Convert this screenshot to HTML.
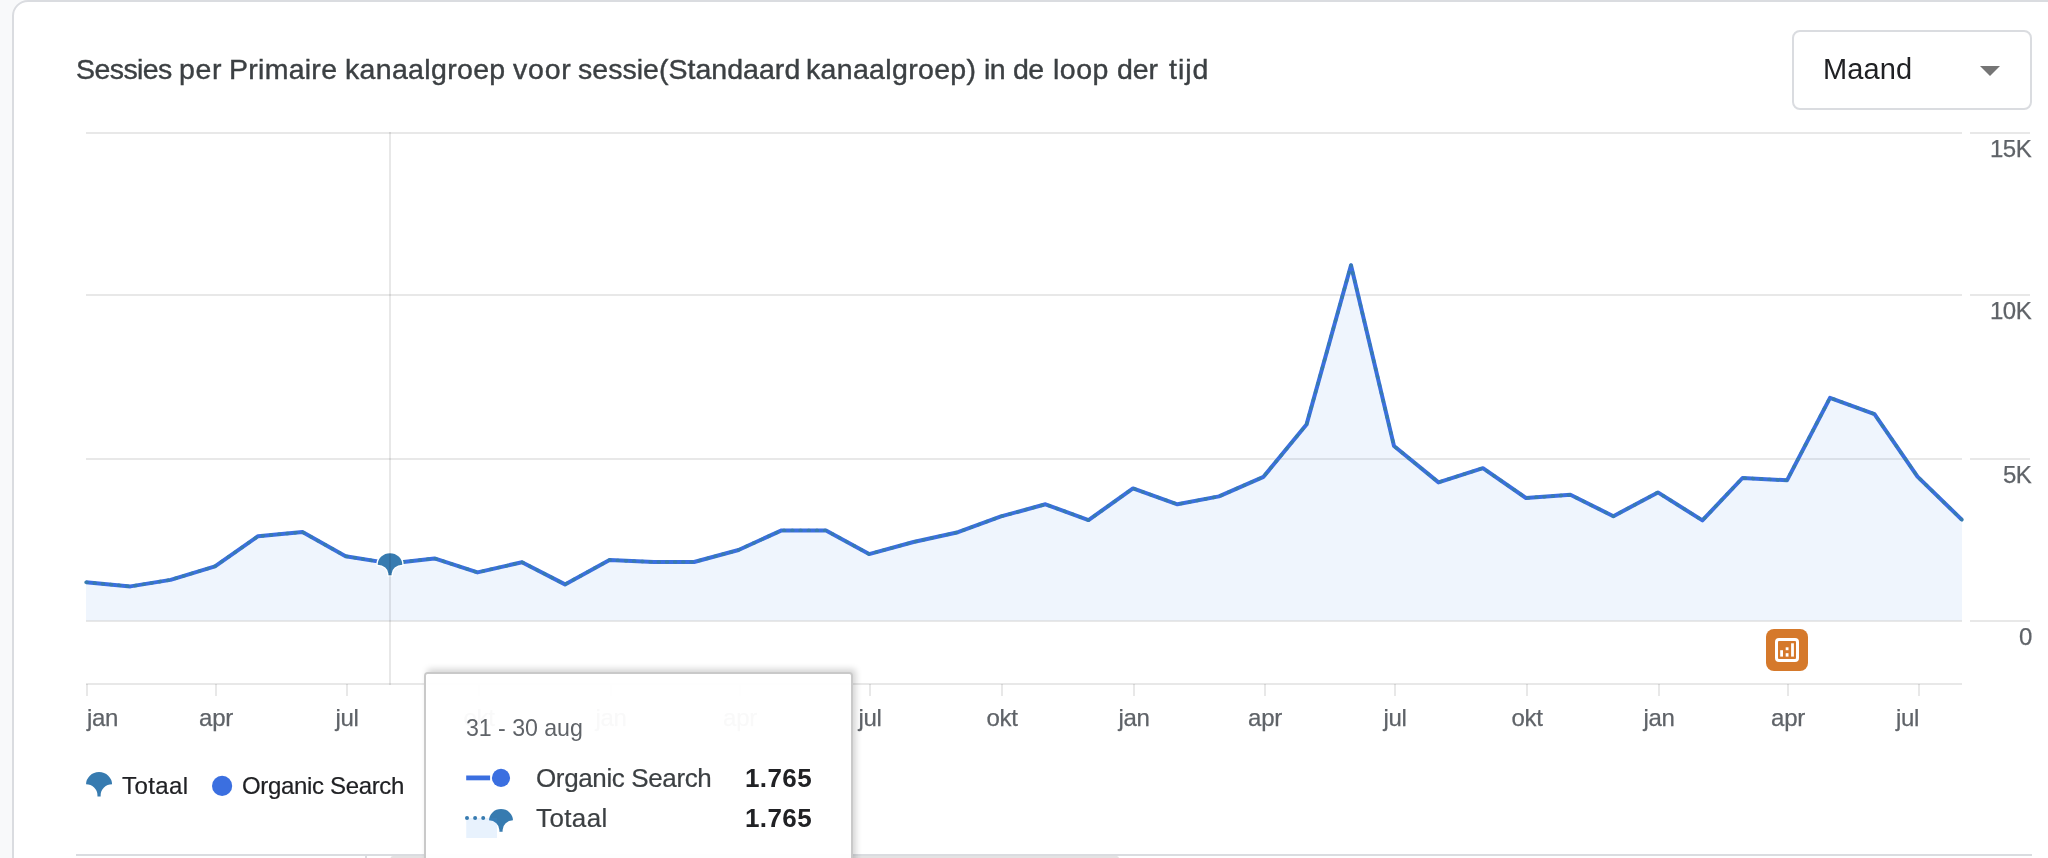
<!DOCTYPE html>
<html lang="nl">
<head>
<meta charset="utf-8">
<title>Sessies per Primaire kanaalgroep</title>
<style>
html,body{margin:0;padding:0;}
body{width:2048px;height:858px;overflow:hidden;background:#f8f9fa;font-family:"Liberation Sans",sans-serif;position:relative;}
.card{position:absolute;left:12px;top:0;width:2100px;height:900px;box-sizing:border-box;background:#fff;border:2px solid #dadce0;border-radius:16px;}
.chart{position:absolute;left:0;top:0;}
.t{position:absolute;white-space:nowrap;line-height:1;}
.t,.yl,.xl{will-change:transform;}
.title{position:absolute;left:0;top:0;}
.tw{top:55.3px;font-size:28.5px;color:#3c4043;-webkit-text-stroke:0.4px #3c4043;}
.dd{position:absolute;left:1792px;top:30px;width:240px;height:80px;box-sizing:border-box;border:2px solid #dadce0;border-radius:8px;background:#fff;}
.ddt{left:1822.5px;top:55.4px;font-size:29px;color:#202124;letter-spacing:0.1px;}
.arrow{position:absolute;left:1980px;top:66px;width:0;height:0;border-left:10px solid transparent;border-right:10px solid transparent;border-top:10px solid #757575;}
.yl{position:absolute;right:16.6px;-webkit-text-stroke:0.25px #5f6368;letter-spacing:-0.5px;font-size:24px;line-height:1;color:#5f6368;white-space:nowrap;}
.xl{position:absolute;top:705.9px;-webkit-text-stroke:0.25px #5f6368;letter-spacing:-0.3px;font-size:24px;line-height:1;color:#5f6368;white-space:nowrap;transform:translateX(-50%);}
.lg{top:774px;font-size:24px;color:#202124;-webkit-text-stroke:0.2px #202124;}
.tip{position:absolute;left:426px;top:674px;width:425px;height:200px;box-sizing:border-box;background:rgba(255,255,255,0.96);border-radius:2px;box-shadow:0 0 0 2px #c9c9c9,3px -3px 6px 1.5px rgba(0,0,0,0.17);}
.tipin{position:absolute;left:-1px;top:-1px;width:427px;height:200px;}
.tip .t{color:#3c4043;}
.th{left:41.3px;top:43.6px;letter-spacing:-0.05px;font-size:23.2px;color:#5f6368 !important;}
.tr{left:111px;font-size:26px;-webkit-text-stroke:0.2px #3c4043;}
.tv{left:320.3px;letter-spacing:0.4px;font-size:26px;font-weight:bold;color:#202124 !important;}
</style>
</head>
<body>
<div class="card"></div>
<svg class="chart" width="2048" height="858" viewBox="0 0 2048 858">
<rect x="86" y="132" width="1876" height="2" fill="#000" fill-opacity="0.09"/>
<rect x="1970" y="132" width="60" height="2" fill="#000" fill-opacity="0.09"/>
<rect x="86" y="294" width="1876" height="2" fill="#000" fill-opacity="0.09"/>
<rect x="1970" y="294" width="60" height="2" fill="#000" fill-opacity="0.09"/>
<rect x="86" y="458" width="1876" height="2" fill="#000" fill-opacity="0.09"/>
<rect x="1970" y="458" width="60" height="2" fill="#000" fill-opacity="0.09"/>
<rect x="86" y="620" width="1876" height="2" fill="#000" fill-opacity="0.09"/>
<rect x="1970" y="620" width="60" height="2" fill="#000" fill-opacity="0.09"/>
<g>
<path d="M86.0,582.3 L130.4,586.4 L170.6,579.9 L215.0,566.3 L258.1,536.2 L302.5,532.1 L345.6,556.2 L390.0,563.4 L434.5,558.4 L477.5,572.4 L522.0,562.2 L565.0,584.4 L609.5,560.0 L653.9,562.0 L694.1,562.0 L738.5,550.0 L781.6,530.4 L826.0,530.4 L869.1,554.1 L913.5,542.0 L958.0,532.2 L1001.0,516.4 L1045.5,504.3 L1088.5,520.1 L1133.0,488.4 L1177.4,504.3 L1219.0,496.4 L1263.5,476.8 L1306.5,424.6 L1351.0,265.3 L1394.0,446.0 L1438.5,482.4 L1482.9,468.2 L1526.0,498.0 L1570.4,494.8 L1613.4,516.2 L1657.9,492.4 L1702.4,520.4 L1742.5,478.0 L1787.0,480.3 L1830.0,397.8 L1874.5,414.1 L1917.5,476.6 L1962.0,519.9 L1962.0,620.5 L86.0,620.5 Z" fill="#4a90e8" fill-opacity="0.09"/>
<path d="M86.0,582.3 L130.4,586.4 L170.6,579.9 L215.0,566.3 L258.1,536.2 L302.5,532.1 L345.6,556.2 L390.0,563.4 L434.5,558.4 L477.5,572.4 L522.0,562.2 L565.0,584.4 L609.5,560.0 L653.9,562.0 L694.1,562.0 L738.5,550.0 L781.6,530.4 L826.0,530.4 L869.1,554.1 L913.5,542.0 L958.0,532.2 L1001.0,516.4 L1045.5,504.3 L1088.5,520.1 L1133.0,488.4 L1177.4,504.3 L1219.0,496.4 L1263.5,476.8 L1306.5,424.6 L1351.0,265.3 L1394.0,446.0 L1438.5,482.4 L1482.9,468.2 L1526.0,498.0 L1570.4,494.8 L1613.4,516.2 L1657.9,492.4 L1702.4,520.4 L1742.5,478.0 L1787.0,480.3 L1830.0,397.8 L1874.5,414.1 L1917.5,476.6 L1962.0,519.9" fill="none" stroke="#3b6fe0" stroke-width="4" stroke-linejoin="round" stroke-linecap="butt"/>
<path d="M86.0,582.3 L130.4,586.4 L170.6,579.9 L215.0,566.3 L258.1,536.2 L302.5,532.1 L345.6,556.2 L390.0,563.4 L434.5,558.4 L477.5,572.4 L522.0,562.2 L565.0,584.4 L609.5,560.0 L653.9,562.0 L694.1,562.0 L738.5,550.0 L781.6,530.4 L826.0,530.4 L869.1,554.1 L913.5,542.0 L958.0,532.2 L1001.0,516.4 L1045.5,504.3 L1088.5,520.1 L1133.0,488.4 L1177.4,504.3 L1219.0,496.4 L1263.5,476.8 L1306.5,424.6 L1351.0,265.3 L1394.0,446.0 L1438.5,482.4 L1482.9,468.2 L1526.0,498.0 L1570.4,494.8 L1613.4,516.2 L1657.9,492.4 L1702.4,520.4 L1742.5,478.0 L1787.0,480.3 L1830.0,397.8 L1874.5,414.1 L1917.5,476.6 L1962.0,519.9" fill="none" stroke="#377bb0" stroke-width="3.4" stroke-linejoin="round" stroke-linecap="round" stroke-dasharray="1.2 7"/>
</g>
<rect x="86" y="683" width="1876" height="2" fill="#000" fill-opacity="0.09"/>
<rect x="86" y="684" width="2" height="12" fill="#000" fill-opacity="0.09"/>
<rect x="215" y="684" width="2" height="12" fill="#000" fill-opacity="0.09"/>
<rect x="346" y="684" width="2" height="12" fill="#000" fill-opacity="0.09"/>
<rect x="478" y="684" width="2" height="12" fill="#000" fill-opacity="0.09"/>
<rect x="610" y="684" width="2" height="12" fill="#000" fill-opacity="0.09"/>
<rect x="739" y="684" width="2" height="12" fill="#000" fill-opacity="0.09"/>
<rect x="869" y="684" width="2" height="12" fill="#000" fill-opacity="0.09"/>
<rect x="1001" y="684" width="2" height="12" fill="#000" fill-opacity="0.09"/>
<rect x="1133" y="684" width="2" height="12" fill="#000" fill-opacity="0.09"/>
<rect x="1264" y="684" width="2" height="12" fill="#000" fill-opacity="0.09"/>
<rect x="1394" y="684" width="2" height="12" fill="#000" fill-opacity="0.09"/>
<rect x="1526" y="684" width="2" height="12" fill="#000" fill-opacity="0.09"/>
<rect x="1658" y="684" width="2" height="12" fill="#000" fill-opacity="0.09"/>
<rect x="1787" y="684" width="2" height="12" fill="#000" fill-opacity="0.09"/>
<rect x="1918" y="684" width="2" height="12" fill="#000" fill-opacity="0.09"/>
<path fill="#377bb0" stroke="#fff" stroke-width="2.8" paint-order="stroke" stroke-linejoin="round" d="M377.70,564.74 A12.30,11.56 0 0 1 402.30,564.74 A10.70,9.02 0 0 0 391.60,573.76 L391.60,575.30 L388.40,575.30 L388.40,573.76 A10.70,9.02 0 0 0 377.70,564.74 Z"/>
<rect x="389" y="132" width="2" height="553" fill="#000" fill-opacity="0.09"/>
<rect x="1766" y="629" width="42" height="42" rx="8" fill="#d5792b"/>
<rect x="1776.5" y="639.5" width="21" height="21" rx="2.5" fill="none" stroke="#fff" stroke-width="3"/>
<rect x="1780.2" y="650.2" width="2.8" height="6.4" fill="#fff"/>
<rect x="1785.7" y="647.3" width="2.8" height="2.9" fill="#fff"/>
<rect x="1785.7" y="653.2" width="2.8" height="3.4" fill="#fff"/>
<rect x="1791.1" y="643.3" width="2.8" height="13.3" fill="#fff"/>
<path fill="#377bb0" d="M86.05,784.29 A13.00,12.22 0 0 1 112.05,784.29 A11.40,10.60 0 0 0 100.65,794.89 L100.65,796.60 L97.45,796.60 L97.45,794.89 A11.40,10.60 0 0 0 86.05,784.29 Z"/>
<circle cx="222.1" cy="785.9" r="10.1" fill="#3b6fe0"/>
<rect x="76" y="854" width="1956" height="2" fill="#dadce0"/>
<rect x="365" y="856" width="2" height="3" fill="#dadce0"/>
<rect x="390.5" y="856" width="728.5" height="6" rx="2.5" fill="#e3e3e3"/>
</svg>
<div class="title"><span class="t tw" style="left:75.7px;letter-spacing:-0.57px">Sessies</span><span class="t tw" style="left:178.7px;letter-spacing:0.70px">per</span><span class="t tw" style="left:229.4px;letter-spacing:0.27px">Primaire</span><span class="t tw" style="left:344.6px;letter-spacing:0.33px">kanaalgroep</span><span class="t tw" style="left:513.3px;letter-spacing:0.80px">voor</span><span class="t tw" style="left:578.0px;letter-spacing:0.03px">sessie(Standaard</span><span class="t tw" style="left:806.4px;letter-spacing:0.33px">kanaalgroep)</span><span class="t tw" style="left:984.3px;letter-spacing:-0.60px">in</span><span class="t tw" style="left:1013.3px;letter-spacing:-0.60px">de</span><span class="t tw" style="left:1052.7px;letter-spacing:0.50px">loop</span><span class="t tw" style="left:1116.8px;letter-spacing:-0.05px">der</span><span class="t tw" style="left:1168.8px;letter-spacing:1.00px">tijd</span></div>
<div class="dd"></div>
<span class="t ddt">Maand</span>
<div class="arrow"></div>
<span class="yl" style="top:137px">15K</span>
<span class="yl" style="top:299px">10K</span>
<span class="yl" style="top:463px">5K</span>
<span class="yl" style="top:625px">0</span>
<span class="xl" style="left:86.5px;transform:none">jan</span>
<span class="xl" style="left:216.4px">apr</span>
<span class="xl" style="left:346.9px">jul</span>
<span class="xl" style="left:478.9px">okt</span>
<span class="xl" style="left:610.8px">jan</span>
<span class="xl" style="left:739.9px">apr</span>
<span class="xl" style="left:870.4px">jul</span>
<span class="xl" style="left:1002.4px">okt</span>
<span class="xl" style="left:1134.3px">jan</span>
<span class="xl" style="left:1264.8px">apr</span>
<span class="xl" style="left:1395.3px">jul</span>
<span class="xl" style="left:1527.3px">okt</span>
<span class="xl" style="left:1659.2px">jan</span>
<span class="xl" style="left:1788.3px">apr</span>
<span class="xl" style="left:1919.3px;transform:translateX(-100%)">jul</span>
<span class="t lg" style="left:122px;letter-spacing:0.4px">Totaal</span>
<span class="t lg" style="left:242px;letter-spacing:-0.34px">Organic Search</span>
<div class="tip"><div class="tipin">
<span class="t th">31 - 30 aug</span>
<svg style="position:absolute;left:0;top:0" width="427" height="200" viewBox="0 0 427 200">
<rect x="41.2" y="102.5" width="23.9" height="4.8" fill="#3b6fe0"/>
<circle cx="76" cy="104.9" r="9.1" fill="#3b6fe0"/>
<path fill="#377bb0" d="M64.00,147.36 A12.00,11.28 0 0 1 88.00,147.36 A10.40,9.77 0 0 0 77.60,157.12 L77.60,158.70 L74.40,158.70 L74.40,157.12 A10.40,9.77 0 0 0 64.00,147.36 Z"/>
<rect x="41.2" y="145" width="30.8" height="20" fill="#4296f0" fill-opacity="0.12"/>
<circle cx="42" cy="145" r="2" fill="#377bb0"/><circle cx="50.1" cy="145" r="2" fill="#377bb0"/><circle cx="58.2" cy="145" r="2" fill="#377bb0"/>
</svg>
<span class="t tr" style="top:92px;letter-spacing:-0.37px">Organic Search</span>
<span class="t tv" style="top:92px">1.765</span>
<span class="t tr" style="top:132px;letter-spacing:0.38px">Totaal</span>
<span class="t tv" style="top:132px">1.765</span>
</div></div>
</body>
</html>
